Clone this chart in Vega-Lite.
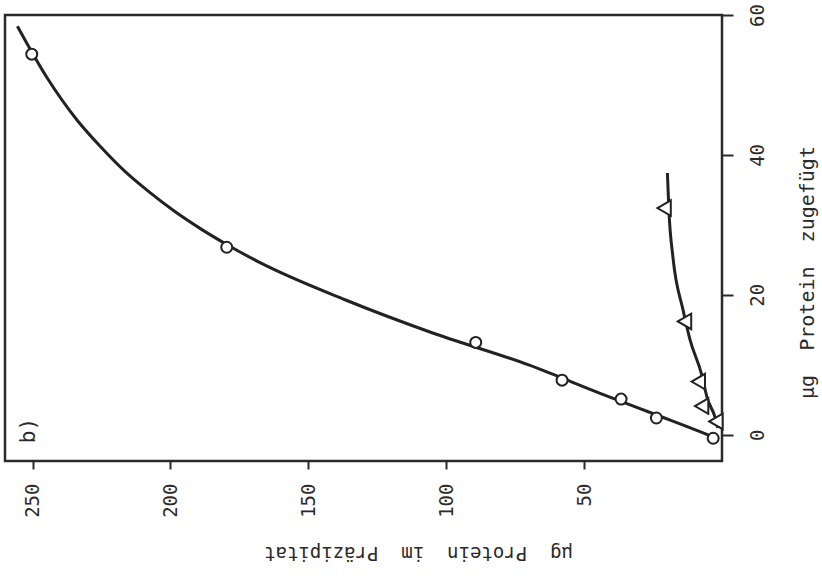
{
  "$schema": "https://vega.github.io/schema/vega-lite/v6.json",
  "width": 717,
  "height": 446,
  "autosize": {"type": "none"},
  "padding": {"left": 5, "top": 15, "right": 100, "bottom": 115},
  "background": "white",
  "config": {
    "view": {"stroke": "#2a2a2a", "strokeWidth": 2.5},
    "axis": {"grid": false, "domain": false}
  },
  "datasets": {
    "circles": [
      {"prot": 250.3, "add": 54.4},
      {"prot": 179.6, "add": 26.8},
      {"prot": 89.3, "add": 13.2},
      {"prot": 58.0, "add": 7.8},
      {"prot": 36.6, "add": 5.1},
      {"prot": 23.8, "add": 2.4},
      {"prot": 3.2, "add": -0.5}
    ],
    "triangles": [
      {"prot": 2.2, "add": 1.9},
      {"prot": 7.4, "add": 4.1},
      {"prot": 8.6, "add": 7.6},
      {"prot": 13.6, "add": 16.2},
      {"prot": 21.0, "add": 32.4}
    ],
    "curve1": [
      {"prot": 3.3, "add": -0.31},
      {"prot": 8.0, "add": 0.44},
      {"prot": 23.9, "add": 2.86},
      {"prot": 44.2, "add": 5.93},
      {"prot": 69.6, "add": 9.91},
      {"prot": 105.9, "add": 14.69},
      {"prot": 136.7, "add": 19.3},
      {"prot": 167.5, "add": 24.6},
      {"prot": 179.6, "add": 27.2},
      {"prot": 189.3, "add": 29.5},
      {"prot": 198.4, "add": 31.9},
      {"prot": 207.4, "add": 34.6},
      {"prot": 216.4, "add": 37.6},
      {"prot": 225.4, "add": 41.2},
      {"prot": 233.9, "add": 45.0},
      {"prot": 244.8, "add": 51.07},
      {"prot": 255.5, "add": 58.4}
    ],
    "curve2": [
      {"prot": 1.5, "add": 1.0},
      {"prot": 2.5, "add": 2.5},
      {"prot": 5.4, "add": 5.3},
      {"prot": 7.3, "add": 8.5},
      {"prot": 11.6, "add": 13.6},
      {"prot": 14.1, "add": 17.8},
      {"prot": 17.8, "add": 25.4},
      {"prot": 19.2, "add": 31.7},
      {"prot": 19.8, "add": 37.4}
    ],
    "labels": [
      {"prot": 251.2, "add": 0.6, "text": "b)"}
    ]
  },
  "encoding": {
    "x": {
      "field": "prot",
      "type": "quantitative",
      "scale": {"domain": [0, 260], "reverse": true, "nice": false, "zero": false},
      "axis": {
        "values": [50, 100, 150, 200, 250],
        "tickSize": 8,
        "tickWidth": 2,
        "tickColor": "#2a2a2a",
        "labelAngle": 270,
        "labelAlign": "right",
        "labelBaseline": "middle",
        "labelPadding": 14,
        "labelFont": "DejaVu Sans Mono",
        "labelFontSize": 19,
        "labelColor": "#2a2a2a",
        "title": "μg\u2002\u2002Protein\u2002\u2002im\u2002\u2002Präzipitat",
        "titleAngle": 180,
        "titleX": 413,
        "titleY": 91,
        "titleAlign": "center",
        "titleBaseline": "middle",
        "titleFont": "DejaVu Sans Mono",
        "titleFontSize": 19,
        "titleFontWeight": "normal",
        "titleColor": "#2a2a2a"
      }
    },
    "y": {
      "field": "add",
      "type": "quantitative",
      "scale": {"domain": [-3.75, 60], "nice": false, "zero": false},
      "axis": {
        "orient": "right",
        "values": [0, 20, 40, 60],
        "tickSize": 11,
        "tickWidth": 2,
        "tickColor": "#2a2a2a",
        "labelAngle": 270,
        "labelAlign": "center",
        "labelBaseline": "top",
        "labelPadding": 15,
        "labelFont": "DejaVu Sans Mono",
        "labelFontSize": 19,
        "labelColor": "#2a2a2a",
        "title": "μg\u2002\u2002Protein\u2002\u2002zugefügt",
        "titleAngle": 270,
        "titleX": 85,
        "titleY": 257,
        "titleAlign": "center",
        "titleBaseline": "middle",
        "titleFont": "DejaVu Sans Mono",
        "titleFontSize": 20,
        "titleFontWeight": "normal",
        "titleColor": "#2a2a2a"
      }
    }
  },
  "layer": [
    {
      "data": {"name": "curve1"},
      "mark": {"type": "line", "interpolate": "monotone", "color": "#222222", "strokeWidth": 3}
    },
    {
      "data": {"name": "curve2"},
      "mark": {"type": "line", "interpolate": "monotone", "color": "#222222", "strokeWidth": 3}
    },
    {
      "data": {"name": "circles"},
      "mark": {"type": "point", "shape": "circle", "size": 120, "filled": false, "fill": "white", "fillOpacity": 1, "stroke": "#222222", "strokeWidth": 2, "opacity": 1}
    },
    {
      "data": {"name": "triangles"},
      "mark": {"type": "point", "shape": "triangle-left", "size": 240, "filled": false, "fill": "white", "fillOpacity": 1, "stroke": "#222222", "strokeWidth": 2, "opacity": 1}
    },
    {
      "data": {"name": "labels"},
      "mark": {"type": "text", "angle": 270, "align": "center", "baseline": "middle", "font": "DejaVu Sans Mono", "fontSize": 21, "color": "#2a2a2a"},
      "encoding": {"text": {"field": "text"}}
    }
  ]
}
